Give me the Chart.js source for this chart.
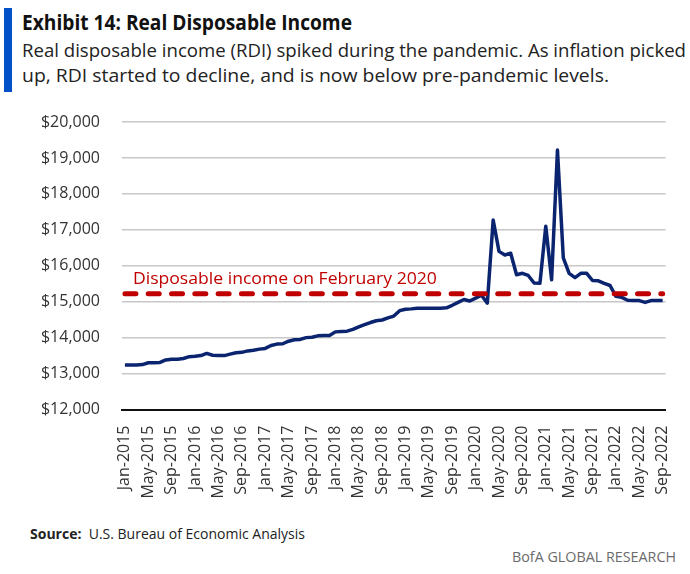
<!DOCTYPE html>
<html>
<head>
<meta charset="utf-8">
<script src="https://cdn.jsdelivr.net/npm/chart.js@4.4.1/dist/chart.umd.min.js"></script>
<style>
  body { margin: 0; width: 690px; height: 574px; position: relative; background: #fff; overflow: hidden; font-family: "Open Sans", sans-serif; }
  .bar { position: absolute; left: 4px; top: 8px; width: 8px; height: 84px; background: #0050c8; }
  .t { position: absolute; white-space: nowrap; transform-origin: 0 0; line-height: 1; }
  #title { left: 22px; top: 10px; font-size: 22px; font-weight: 700; color: #111; }
  #sub1 { left: 22px; top: 41px; font-size: 19px; color: #222; }
  #sub2 { left: 22px; top: 66px; font-size: 19px; color: #222; }
  #source { left: 30px; top: 526px; font-size: 15px; color: #222; }
  #brand { left: 512px; top: 549px; font-size: 15px; color: #6b6b6b; }
  #wrap { position: absolute; left: 0; top: 0; width: 690px; height: 574px; }
</style>
</head>
<body>
<div class="bar"></div>
<div class="t" id="title" data-w="330">Exhibit 14: Real Disposable Income</div>
<div class="t" id="sub1" data-w="664">Real disposable income (RDI) spiked during the pandemic. As inflation picked</div>
<div class="t" id="sub2" data-w="587">up, RDI started to decline, and is now below pre-pandemic levels.</div>
<div class="t" id="source" data-w="275"><b>Source:</b>&nbsp; U.S. Bureau of Economic Analysis</div>
<div class="t" id="brand" data-w="164">BofA GLOBAL RESEARCH</div>
<div id="wrap"><canvas id="chart" width="690" height="574"></canvas></div>

<script>
// real disposable income, monthly, Jan-2015 .. Sep-2022
const rdi2015 = [13240, 13240, 13240, 13250, 13300, 13300, 13310, 13380, 13400, 13400, 13420, 13470];
const rdi2016 = [13480, 13500, 13560, 13510, 13500, 13500, 13540, 13580, 13590, 13630, 13650, 13680];
const rdi2017 = [13700, 13780, 13820, 13830, 13900, 13940, 13950, 14000, 14010, 14050, 14060, 14060];
const rdi2018 = [14160, 14170, 14180, 14230, 14300, 14360, 14420, 14470, 14490, 14550, 14600, 14750];
const rdi2019 = [14790, 14800, 14820, 14820, 14820, 14820, 14820, 14830, 14900, 14980, 15060, 15020];
const rdi2020 = [15100, 15180, 14960, 17270, 16400, 16300, 16350, 15750, 15790, 15730, 15520, 15510];
const rdi2021 = [17100, 15610, 19220, 16220, 15790, 15670, 15790, 15790, 15590, 15580, 15510, 15450];
const rdi2022 = [15150, 15120, 15040, 15030, 15030, 14980, 15030, 15030, 15030];

const feb2020Level = 15220;
const feb2020Label = 'Disposable income on February 2020';

const years = [2015, 2016, 2017, 2018, 2019, 2020, 2021, 2022];
const monthNames = ['Jan', 'Feb', 'Mar', 'Apr', 'May', 'Jun', 'Jul', 'Aug', 'Sep', 'Oct', 'Nov', 'Dec'];

const rdi = [].concat(rdi2015, rdi2016, rdi2017, rdi2018, rdi2019, rdi2020, rdi2021, rdi2022);
const months = [];
years.forEach(y => monthNames.forEach(m => months.push(m + '-' + y)));
months.length = rdi.length;

const yTicks = [12000, 13000, 14000, 15000, 16000, 17000, 18000, 19000, 20000];

// squeeze the html text to the widths of the condensed font in the original
document.querySelectorAll('.t').forEach(el => {
  const w = el.getBoundingClientRect().width;
  el.style.transform = 'scaleX(' + (el.dataset.w / w) + ')';
});

const refLabel = {
  id: 'refLabel',
  afterDatasetsDraw(chart) {
    const { ctx, scales: { x, y } } = chart;
    ctx.save();
    ctx.font = '17px "Open Sans", sans-serif';
    ctx.fillStyle = '#c00000';
    ctx.textBaseline = 'alphabetic';
    const w = ctx.measureText(feb2020Label).width;
    const px = x.getPixelForValue(0) + 8;
    const py = y.getPixelForValue(feb2020Level) - 10;
    ctx.translate(px, py);
    ctx.scale(304 / w, 1);
    ctx.fillText(feb2020Label, 0, 0);
    ctx.restore();
  }
};

const ctx = document.getElementById('chart').getContext('2d');
new Chart(ctx, {
  type: 'line',
  data: {
    labels: months,
    datasets: [{
      label: feb2020Label,
      data: months.map(() => feb2020Level),
      borderColor: '#c00000',
      borderWidth: 5,
      borderDash: [11, 12.3],
      borderCapStyle: 'round',
      pointRadius: 0
    }, {
      label: 'Real disposable income',
      data: rdi,
      borderColor: '#0b2470',
      borderWidth: 3.5,
      borderJoinStyle: 'round',
      pointRadius: 0,
      tension: 0
    }]
  },
  options: {
    responsive: false,
    animation: false,
    layout: { padding: { top: 122, right: 24, left: 0, bottom: 0 } },
    plugins: {
      legend: { display: false },
      tooltip: { enabled: false }
    },
    scales: {
      x: {
        offset: true,
        grid: { display: false },
        border: { display: true, color: '#111', width: 2 },
        afterFit: s => { s.height = 164.5; },
        ticks: {
          autoSkip: false,
          minRotation: 90,
          maxRotation: 90,
          padding: 8,
          color: '#333',
          font: { family: 'Open Sans', size: 16 },
          callback: (v, i) => (i % 4 === 0 ? months[i] : '')
        }
      },
      y: {
        min: 12000,
        max: 20000,
        afterFit: s => { s.width = 122; },
        afterBuildTicks: s => { s.ticks = yTicks.map(v => ({ value: v })); },
        grid: { color: '#c8c8c8', lineWidth: 1.5, drawTicks: false },
        border: { display: false },
        ticks: {
          padding: 22,
          color: '#333',
          font: { family: 'Open Sans', size: 16 },
          callback: v => '$' + v.toLocaleString('en-US')
        }
      }
    }
  },
  plugins: [refLabel]
});
</script>
</body>
</html>
